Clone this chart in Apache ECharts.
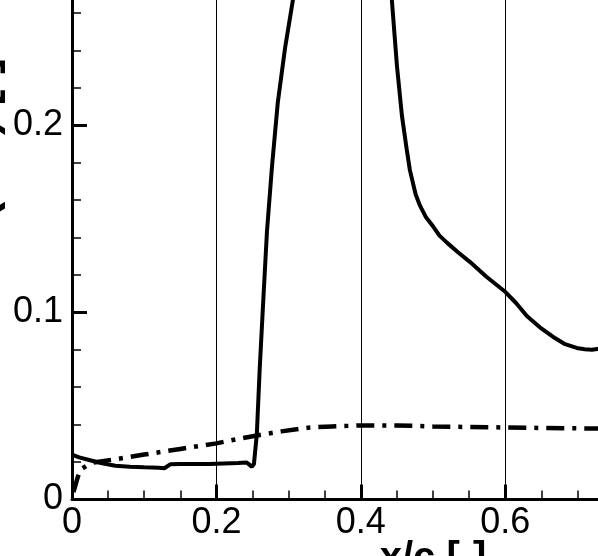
<!DOCTYPE html>
<html>
<head>
<meta charset="utf-8">
<script src="https://cdn.jsdelivr.net/npm/echarts@6/dist/echarts.min.js"></script>
<style>
  html, body { margin: 0; padding: 0; background: #fff; overflow: hidden; width: 598px; height: 556px; }
  /* the plot is bigger than the window, only its lower-left part is visible */
  #chart { position: absolute; left: 0; top: -200px; width: 848px; height: 756px; }
</style>
</head>
<body>
<div id="chart"></div>
<script>
// solid line
var solidX = [0.000, 0.010, 0.025, 0.040, 0.060, 0.080, 0.100, 0.120, 0.128, 0.136, 0.150, 0.190, 0.230, 0.242, 0.246, 0.249, 0.252,
              0.256, 0.260, 0.265, 0.270, 0.277, 0.285, 0.295, 0.306, 0.320, 0.340, 0.370, 0.400, 0.420, 0.435, 0.443,
              0.450, 0.457, 0.464, 0.468, 0.476, 0.482, 0.490, 0.500, 0.509, 0.520, 0.535, 0.551, 0.574, 0.600, 0.615,
              0.630, 0.648, 0.666, 0.683, 0.699, 0.710, 0.720, 0.730, 0.740];
var solidY = [0.0240, 0.0225, 0.0210, 0.0195, 0.0180, 0.0175, 0.0172, 0.0170, 0.0167, 0.0188, 0.0190, 0.0190, 0.0195, 0.0198, 0.0185, 0.0175, 0.0190,
              0.0350, 0.0700, 0.1070, 0.1430, 0.1780, 0.2120, 0.2410, 0.2670, 0.2900, 0.3100, 0.3200, 0.3150, 0.3000, 0.2800, 0.2670,
              0.2320, 0.2050, 0.1860, 0.1760, 0.1630, 0.1570, 0.1510, 0.1460, 0.1410, 0.1370, 0.1320, 0.1270, 0.1190, 0.1110, 0.1050,
              0.0980, 0.0920, 0.0870, 0.0830, 0.0810, 0.0803, 0.0800, 0.0805, 0.0810];
// dash-dot line
var dashX = [0.002, 0.008, 0.012, 0.020, 0.030, 0.060, 0.100, 0.150, 0.200, 0.233, 0.260, 0.290, 0.330, 0.360, 0.400, 0.450, 0.500, 0.600, 0.700, 0.740];
var dashY = [0.0040, 0.0120, 0.0160, 0.0180, 0.0198, 0.0215, 0.0240, 0.0270, 0.0300, 0.0326, 0.0345, 0.0364, 0.0385, 0.0390, 0.0396, 0.0396, 0.0390, 0.0385, 0.0380, 0.0380];

var xTitle = 'x/c [-]';
var yTitle = 'Tu (x/c) [-]';

function pairs(xs, ys) {
  var out = [];
  for (var i = 0; i < xs.length; i++) out.push([xs[i], ys[i]]);
  return out;
}

var font = 'Liberation Sans, Arial, Helvetica, sans-serif';
var chart = echarts.init(document.getElementById('chart'));
chart.setOption({
  animation: false,
  backgroundColor: '#fff',
  grid: { left: 72, top: 44.5, width: 722, height: 655, outerBoundsMode: 'none', containLabel: false },
  xAxis: {
    type: 'value', min: 0, max: 1, interval: 0.2,
    name: xTitle, nameLocation: 'middle', nameGap: 39, nameMoveOverlap: false,
    nameTextStyle: { fontFamily: font, fontSize: 40, fontWeight: 'bold', color: '#000' },
    axisLine: { lineStyle: { color: '#000', width: 3 } },
    axisTick: { inside: true, length: 15, lineStyle: { color: '#000', width: 3 } },
    minorTick: { show: true, splitNumber: 4, length: 9, lineStyle: { color: '#000', width: 1.5 } },
    axisLabel: { margin: 6, fontFamily: font, fontSize: 36, color: '#000' },
    splitLine: { show: true, lineStyle: { color: '#000', width: 1 } }
  },
  yAxis: {
    type: 'value', min: 0, max: 0.35, interval: 0.1,
    name: yTitle, nameLocation: 'middle', nameGap: 66, nameMoveOverlap: false,
    nameTextStyle: { fontFamily: font, fontSize: 48, fontWeight: 'bold', color: '#000' },
    axisLine: { lineStyle: { color: '#000', width: 3 } },
    axisTick: { inside: true, length: 15, lineStyle: { color: '#000', width: 3 } },
    minorTick: { show: true, splitNumber: 5, length: 9, lineStyle: { color: '#000', width: 1.5 } },
    axisLabel: { margin: 9, align: 'right', fontFamily: font, fontSize: 36, color: '#000' },
    splitLine: { show: false }
  },
  series: [
    {
      type: 'line', data: pairs(solidX, solidY), showSymbol: false,
      lineStyle: { color: '#000', width: 4 }
    },
    {
      type: 'line', data: pairs(dashX, dashY), showSymbol: false,
      lineStyle: { color: '#000', width: 4.5, type: [18, 8, 4, 8] }
    }
  ]
});
</script>
</body>
</html>
